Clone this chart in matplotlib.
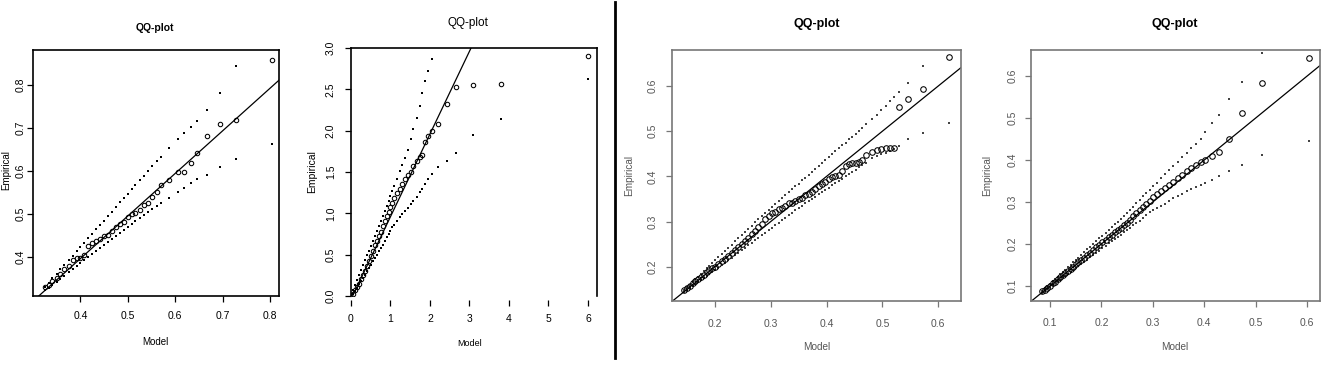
import matplotlib.pyplot as plt
from matplotlib.lines import Line2D

plt.rcParams['font.family'] = ['Liberation Sans', 'DejaVu Sans']

# ---------------- panel 1 ----------------
p1_model = [0.325, 0.333, 0.341, 0.350, 0.358, 0.366, 0.375, 0.384, 0.392, 0.400,
            0.408, 0.416, 0.425, 0.433, 0.441, 0.449, 0.458, 0.466, 0.475, 0.484,
            0.492, 0.500, 0.508, 0.516, 0.525, 0.534, 0.543, 0.552, 0.561, 0.570,
            0.587, 0.606, 0.619, 0.633, 0.647, 0.667, 0.694, 0.728, 0.805]
p1_emp = [0.330, 0.335, 0.343, 0.352, 0.360, 0.371, 0.378, 0.392, 0.398, 0.398,
          0.405, 0.425, 0.432, 0.437, 0.442, 0.448, 0.452, 0.460, 0.470, 0.476,
          0.482, 0.492, 0.500, 0.503, 0.510, 0.520, 0.525, 0.540, 0.550, 0.567,
          0.578, 0.598, 0.598, 0.619, 0.641, 0.680, 0.709, 0.719, 0.858]
p1_lo = [0.322, 0.328, 0.335, 0.342, 0.349, 0.356, 0.364, 0.371, 0.378, 0.385,
         0.392, 0.399, 0.406, 0.413, 0.420, 0.427, 0.434, 0.441, 0.449, 0.456,
         0.463, 0.469, 0.476, 0.483, 0.490, 0.497, 0.504, 0.511, 0.518, 0.525,
         0.538, 0.551, 0.560, 0.571, 0.581, 0.591, 0.610, 0.627, 0.662]
p1_hi = [0.330, 0.340, 0.350, 0.361, 0.371, 0.381, 0.392, 0.403, 0.413, 0.423,
         0.433, 0.443, 0.454, 0.464, 0.474, 0.484, 0.495, 0.505, 0.516, 0.527,
         0.537, 0.547, 0.557, 0.567, 0.578, 0.589, 0.600, 0.611, 0.622, 0.633,
         0.652, 0.673, 0.687, 0.702, 0.717, 0.742, 0.781, 0.844, 0.950]
p1_line = (0.0, 0.99)   # intercept, slope
p1_xticks = [0.4, 0.5, 0.6, 0.7, 0.8]
p1_yticks = [0.4, 0.5, 0.6, 0.7, 0.8]

# ---------------- panel 2 ----------------
p2_model = [0.05, 0.10, 0.15, 0.20, 0.25, 0.30, 0.35, 0.40, 0.45, 0.50,
            0.55, 0.60, 0.65, 0.70, 0.75, 0.80, 0.85, 0.90, 0.95, 1.00,
            1.05, 1.10, 1.17, 1.24, 1.30, 1.37, 1.44, 1.51, 1.58, 1.66,
            1.74, 1.80, 1.88, 1.96, 2.05, 2.21, 2.42, 2.66, 3.08, 3.81, 6.01]
p2_emp = [0.03, 0.07, 0.11, 0.15, 0.20, 0.25, 0.30, 0.36, 0.42, 0.48,
          0.55, 0.62, 0.67, 0.73, 0.78, 0.85, 0.91, 0.97, 1.02, 1.08,
          1.13, 1.18, 1.24, 1.30, 1.35, 1.42, 1.46, 1.50, 1.57, 1.63,
          1.68, 1.70, 1.86, 1.93, 2.00, 2.08, 2.32, 2.53, 2.55, 2.56, 2.90]
p2_lo = [0.02, 0.06, 0.10, 0.14, 0.18, 0.22, 0.26, 0.30, 0.34, 0.38,
         0.42, 0.46, 0.50, 0.54, 0.58, 0.62, 0.67, 0.71, 0.75, 0.79,
         0.83, 0.86, 0.91, 0.95, 0.99, 1.03, 1.07, 1.11, 1.15, 1.20,
         1.26, 1.30, 1.35, 1.41, 1.48, 1.56, 1.63, 1.73, 1.95, 2.14, 2.63]
p2_hi = [0.07, 0.13, 0.19, 0.25, 0.31, 0.37, 0.43, 0.49, 0.55, 0.61,
         0.67, 0.73, 0.79, 0.85, 0.91, 0.97, 1.03, 1.09, 1.15, 1.21,
         1.27, 1.33, 1.42, 1.51, 1.58, 1.67, 1.77, 1.90, 2.02, 2.15,
         2.30, 2.45, 2.60, 2.72, 2.87, 3.20, 3.50, 3.90, 4.40, 5.00, 7.00]
p2_line = (-0.04, 1.0)
p2_xticks = [0, 1, 2, 3, 4, 5, 6]
p2_yticks = [0.0, 0.5, 1.0, 1.5, 2.0, 2.5, 3.0]

# ---------------- panel 3 ----------------
p3_model = [0.145, 0.150, 0.155, 0.160, 0.165, 0.170, 0.175, 0.180, 0.185, 0.190,
            0.195, 0.200, 0.206, 0.212, 0.218, 0.224, 0.230, 0.236, 0.242, 0.248,
            0.254, 0.260, 0.266, 0.272, 0.278, 0.284, 0.290, 0.296, 0.302, 0.308,
            0.314, 0.320, 0.326, 0.332, 0.338, 0.344, 0.350, 0.356, 0.362, 0.368,
            0.374, 0.380, 0.386, 0.392, 0.398, 0.404, 0.410, 0.416, 0.422, 0.428,
            0.434, 0.440, 0.446, 0.452, 0.458, 0.464, 0.470, 0.482, 0.490, 0.498,
            0.506, 0.514, 0.521, 0.529, 0.546, 0.573, 0.620]
p3_emp = [0.148, 0.152, 0.158, 0.163, 0.168, 0.172, 0.178, 0.182, 0.188, 0.192,
          0.196, 0.200, 0.207, 0.212, 0.218, 0.223, 0.230, 0.236, 0.243, 0.251,
          0.258, 0.264, 0.272, 0.280, 0.288, 0.295, 0.305, 0.312, 0.318, 0.322,
          0.327, 0.330, 0.334, 0.340, 0.342, 0.346, 0.350, 0.352, 0.358, 0.362,
          0.366, 0.372, 0.378, 0.384, 0.388, 0.394, 0.398, 0.400, 0.404, 0.412,
          0.422, 0.428, 0.430, 0.430, 0.432, 0.436, 0.448, 0.455, 0.458, 0.461,
          0.462, 0.462, 0.462, 0.553, 0.571, 0.593, 0.664]
p3_lo = [0.143, 0.148, 0.152, 0.157, 0.161, 0.166, 0.170, 0.175, 0.179, 0.184,
         0.188, 0.193, 0.198, 0.204, 0.209, 0.215, 0.220, 0.226, 0.231, 0.237,
         0.242, 0.248, 0.253, 0.259, 0.264, 0.270, 0.275, 0.281, 0.286, 0.292,
         0.297, 0.303, 0.308, 0.314, 0.319, 0.325, 0.330, 0.335, 0.340, 0.345,
         0.350, 0.355, 0.360, 0.365, 0.370, 0.375, 0.380, 0.385, 0.390, 0.395,
         0.400, 0.405, 0.410, 0.415, 0.420, 0.425, 0.430, 0.441, 0.445, 0.449,
         0.452, 0.456, 0.460, 0.467, 0.482, 0.497, 0.518]
p3_hi = [0.148, 0.154, 0.160, 0.166, 0.172, 0.178, 0.184, 0.190, 0.196, 0.202,
         0.208, 0.214, 0.221, 0.228, 0.235, 0.242, 0.249, 0.256, 0.263, 0.270,
         0.277, 0.284, 0.291, 0.298, 0.305, 0.312, 0.319, 0.326, 0.332, 0.339,
         0.345, 0.352, 0.358, 0.365, 0.371, 0.378, 0.384, 0.391, 0.397, 0.404,
         0.410, 0.417, 0.423, 0.430, 0.436, 0.443, 0.449, 0.456, 0.462, 0.469,
         0.475, 0.482, 0.488, 0.495, 0.501, 0.508, 0.515, 0.528, 0.537, 0.547,
         0.556, 0.566, 0.575, 0.586, 0.607, 0.644, 0.710]
p3_line = (0.0, 1.0)
p3_xticks = [0.2, 0.3, 0.4, 0.5, 0.6]
p3_yticks = [0.2, 0.3, 0.4, 0.5, 0.6]

# ---------------- panel 4 ----------------
p4_model = [0.085, 0.090, 0.095, 0.100, 0.105, 0.110, 0.115, 0.120, 0.125, 0.130,
            0.135, 0.140, 0.145, 0.150, 0.155, 0.160, 0.166, 0.172, 0.178, 0.184,
            0.190, 0.196, 0.202, 0.208, 0.214, 0.220, 0.226, 0.232, 0.238, 0.244,
            0.250, 0.256, 0.262, 0.268, 0.274, 0.280, 0.287, 0.294, 0.301, 0.308,
            0.316, 0.324, 0.332, 0.340, 0.348, 0.357, 0.366, 0.375, 0.384, 0.393,
            0.402, 0.415, 0.429, 0.449, 0.474, 0.513, 0.603]
p4_emp = [0.088, 0.091, 0.095, 0.100, 0.106, 0.110, 0.116, 0.121, 0.126, 0.131,
          0.135, 0.141, 0.146, 0.151, 0.156, 0.161, 0.166, 0.173, 0.179, 0.186,
          0.192, 0.197, 0.205, 0.210, 0.216, 0.222, 0.228, 0.233, 0.238, 0.244,
          0.250, 0.258, 0.266, 0.274, 0.281, 0.288, 0.296, 0.303, 0.311, 0.318,
          0.326, 0.333, 0.340, 0.347, 0.356, 0.365, 0.374, 0.381, 0.389, 0.396,
          0.401, 0.409, 0.420, 0.450, 0.512, 0.584, 0.643]
p4_lo = [0.083, 0.088, 0.092, 0.097, 0.101, 0.106, 0.111, 0.115, 0.120, 0.124,
         0.129, 0.133, 0.138, 0.142, 0.147, 0.151, 0.157, 0.162, 0.168, 0.173,
         0.179, 0.184, 0.190, 0.195, 0.201, 0.206, 0.212, 0.217, 0.222, 0.228,
         0.233, 0.239, 0.244, 0.250, 0.255, 0.261, 0.270, 0.275, 0.280, 0.285,
         0.290, 0.296, 0.302, 0.309, 0.314, 0.319, 0.325, 0.330, 0.335, 0.340,
         0.345, 0.352, 0.362, 0.373, 0.387, 0.413, 0.446]
p4_hi = [0.088, 0.094, 0.099, 0.105, 0.111, 0.116, 0.122, 0.128, 0.133, 0.139,
         0.145, 0.150, 0.156, 0.162, 0.167, 0.173, 0.180, 0.187, 0.193, 0.200,
         0.207, 0.213, 0.220, 0.227, 0.233, 0.240, 0.247, 0.253, 0.260, 0.267,
         0.273, 0.281, 0.289, 0.297, 0.305, 0.313, 0.321, 0.329, 0.338, 0.346,
         0.356, 0.366, 0.375, 0.385, 0.395, 0.406, 0.417, 0.428, 0.439, 0.450,
         0.466, 0.487, 0.508, 0.546, 0.585, 0.655, 0.780]
p4_line = (0.0, 1.0)
p4_xticks = [0.1, 0.2, 0.3, 0.4, 0.5, 0.6]
p4_yticks = [0.1, 0.2, 0.3, 0.4, 0.5, 0.6]

W, H = 1340, 372
fig = plt.figure(figsize=(W / 100, H / 100), dpi=100)


def pix_axes(left, top, right, bottom):
    return fig.add_axes([left / W, 1 - bottom / H, (right - left) / W, (bottom - top) / H])


def qq_panel(ax, model, emp, lo, hi, line, xlim, ylim, xticks, yticks, fmt,
             frame, text, msize, xpad, ypad, tsize, band):
    ax.plot(model, lo, ls='none', marker='s', ms=1.5, color=band, mew=0)
    ax.plot(model, hi, ls='none', marker='s', ms=1.5, color=band, mew=0)
    ax.axline((0, line[0]), slope=line[1], color='black', lw=0.9)
    ax.plot(model, emp, ls='none', marker='o', ms=msize, mfc='none',
            mec='black', mew=0.75)
    ax.set_xlim(*xlim)
    ax.set_ylim(*ylim)
    ax.set_xticks(xticks)
    ax.set_yticks(yticks)
    ax.set_xticklabels([fmt.format(v) for v in xticks])
    ax.set_yticklabels([fmt.format(v) for v in yticks], rotation=90, va='center')
    for s in ax.spines.values():
        s.set_color(frame)
        s.set_linewidth(1.2)
    ax.tick_params(axis='both', direction='out', length=4, width=0.9,
                   color=frame, labelcolor=text, labelsize=tsize)
    ax.tick_params(axis='x', pad=xpad)
    ax.tick_params(axis='y', pad=ypad)


# panel 1
ax1 = pix_axes(33, 50, 279, 296)
qq_panel(ax1, p1_model, p1_emp, p1_lo, p1_hi, p1_line, (0.30, 0.819), (0.309, 0.881),
         p1_xticks, p1_yticks, '{:.1f}', 'black', 'black', 3.2, 7, 1.5, 7.5, 'black')
fig.text(155 / W, 1 - 28 / H, 'QQ-plot', ha='center', va='center',
         fontsize=7.5, fontweight='bold')
fig.text(155 / W, 1 - 342 / H, 'Model', ha='center', va='center', fontsize=7)
fig.text(6 / W, 1 - 170 / H, 'Empirical', ha='center', va='center', fontsize=7,
         rotation=90)

# panel 2 (no bottom frame line, x axis drawn a little below)
ax2 = pix_axes(351, 48, 597, 296)
qq_panel(ax2, p2_model, p2_emp, p2_lo, p2_hi, p2_line, (0, 6.23), (0, 3.0),
         p2_xticks, p2_yticks, '{:g}', 'black', 'black', 3.2, 6, 7, 7.5, 'black')
ax2.set_yticklabels(['{:.1f}'.format(v) for v in p2_yticks], rotation=90, va='center')
ax2.spines['bottom'].set_position(('outward', 3))
ax2.spines['bottom'].set_visible(False)
fig.text(468 / W, 1 - 23 / H, 'QQ-plot', ha='center', va='center', fontsize=8.5)
fig.text(470 / W, 1 - 343 / H, 'Model', ha='center', va='center', fontsize=6.5)
fig.text(312 / W, 1 - 172 / H, 'Empirical', ha='center', va='center', fontsize=7.5,
         rotation=90)

# divider between the two halves
fig.add_artist(Line2D([615 / W, 615 / W], [1 - 2 / H, 1 - 358 / H],
                      color='black', lw=2))

# panel 3
ax3 = pix_axes(672, 50, 961, 301)
qq_panel(ax3, p3_model, p3_emp, p3_lo, p3_hi, p3_line, (0.123, 0.641), (0.124, 0.68),
         p3_xticks, p3_yticks, '{:.1f}', '#777777', '#555555', 4, 9, 6, 7.5, '#444444')
fig.text(817 / W, 1 - 24 / H, 'QQ-plot', ha='center', va='center',
         fontsize=9, fontweight='bold')
fig.text(817 / W, 1 - 347 / H, 'Model', ha='center', va='center', fontsize=7.2,
         color='#555555')
fig.text(629 / W, 1 - 175 / H, 'Empirical', ha='center', va='center', fontsize=7.2,
         rotation=90, color='#555555')

# panel 4
ax4 = pix_axes(1031, 50, 1320, 301)
qq_panel(ax4, p4_model, p4_emp, p4_lo, p4_hi, p4_line, (0.063, 0.625), (0.064, 0.662),
         p4_xticks, p4_yticks, '{:.1f}', '#777777', '#555555', 4, 8, 5.5, 7.5, '#444444')
fig.text(1175 / W, 1 - 24 / H, 'QQ-plot', ha='center', va='center',
         fontsize=9, fontweight='bold')
fig.text(1175 / W, 1 - 347 / H, 'Model', ha='center', va='center', fontsize=7.2,
         color='#555555')
fig.text(987 / W, 1 - 175 / H, 'Empirical', ha='center', va='center', fontsize=7.2,
         rotation=90, color='#555555')

fig.savefig('out.png', dpi=100)
